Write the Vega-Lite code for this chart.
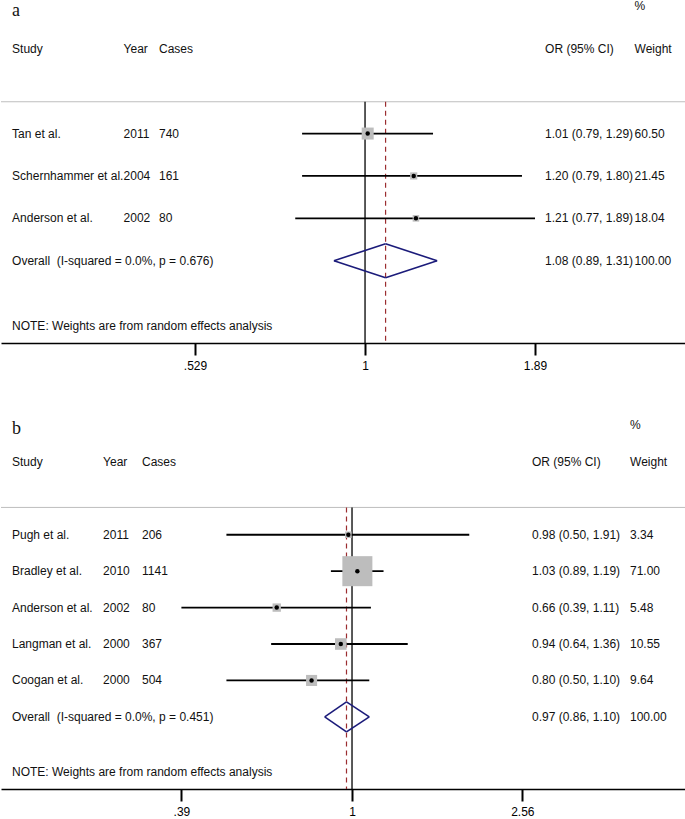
{
  "$schema": "https://vega.github.io/schema/vega-lite/v6.json",
  "padding": 0,
  "spacing": 48,
  "resolve": {"scale": {"size": "independent", "x": "independent", "y": "independent"}},
  "config": {
    "view": {"stroke": null},
    "text": {"font": "Liberation Sans", "fontSize": 12, "fill": "#111111"},
    "axis": {"ticks": true, "tickColor": "#000000", "tickWidth": 2, "tickSize": 12, "tickOpacity": 1},
    "axisX": {"grid": false, "title": null, "ticks": true, "labelExpr": "datum.value < 1 ? replace(format(datum.value, '.3~g'), '0.', '.') : format(datum.value, '.3~g')", "domainColor": "black", "domainWidth": 1.5, "tickColor": "#000000", "tickWidth": 2, "tickSize": 12, "labelFont": "Liberation Sans", "labelFontSize": 12, "labelColor": "black", "labelPadding": 5, "labelFlush": false, "labelOverlap": false}
  },
  "vconcat": [
    {
      "width": 685,
      "height": 343,
      "data": {"values": [
        {"study": "Tan et al.", "year": 2011, "cases": 740, "or": 1.01, "lo": 0.79, "hi": 1.29, "est": "1.01 (0.79, 1.29)", "weight": 60.50, "kind": "study"},
        {"study": "Schernhammer et al.", "year": 2004, "cases": 161, "or": 1.20, "lo": 0.79, "hi": 1.80, "est": "1.20 (0.79, 1.80)", "weight": 21.45, "kind": "study"},
        {"study": "Anderson et al.", "year": 2002, "cases": 80, "or": 1.21, "lo": 0.77, "hi": 1.89, "est": "1.21 (0.77, 1.89)", "weight": 18.04, "kind": "study"},
        {"study": "Overall\u00a0\u00a0(I-squared = 0.0%, p = 0.676)", "or": 1.08, "lo": 0.89, "hi": 1.31, "est": "1.08 (0.89, 1.31)", "weight": 100.00, "kind": "overall"}
      ]},
      "transform": [{"window": [{"op": "row_number", "as": "row"}]}],
      "layer": [
        {"data": {"values": [{}]}, "mark": {"type": "rule", "color": "#BEBEBE", "strokeWidth": 1},
         "encoding": {"y": {"datum": 0.25, "type": "quantitative", "scale": {"domain": [-2.15, 5.94], "reverse": true, "nice": false, "zero": false}, "axis": null}}},
        {"data": {"values": [{}]}, "mark": {"type": "rule", "color": "black", "strokeWidth": 1.3},
         "encoding": {
           "x": {"datum": 1, "type": "quantitative", "scale": {"type": "log", "domain": [0.2558, 3.327], "nice": false}, "axis": {"values": [0.529, 1, 1.89], "title": null, "ticks": true, "tickSize": 12}},
           "y": {"datum": 0.25, "type": "quantitative", "scale": {"domain": [-2.15, 5.94], "reverse": true, "nice": false, "zero": false}, "axis": null},
           "y2": {"datum": 5.94}}},
        {"transform": [{"filter": "datum.kind == 'overall'"}], "mark": {"type": "rule", "color": "#9B2D30", "strokeWidth": 1.2, "strokeDash": [5, 4]},
         "encoding": {
           "x": {"field": "or", "type": "quantitative", "scale": {"type": "log", "domain": [0.2558, 3.327], "nice": false}, "axis": {"values": [0.529, 1, 1.89], "title": null, "ticks": true, "tickSize": 12}},
           "y": {"datum": 0.25, "type": "quantitative", "scale": {"domain": [-2.15, 5.94], "reverse": true, "nice": false, "zero": false}, "axis": null},
           "y2": {"datum": 5.94}}},
        {"transform": [{"filter": "datum.kind == 'study'"}], "mark": {"type": "rule", "color": "black", "strokeWidth": 1.8},
         "encoding": {
           "x": {"field": "lo", "type": "quantitative", "scale": {"type": "log", "domain": [0.2558, 3.327], "nice": false}, "axis": {"values": [0.529, 1, 1.89], "title": null, "ticks": true, "tickSize": 12}},
           "x2": {"field": "hi"},
           "y": {"field": "row", "type": "quantitative", "scale": {"domain": [-2.15, 5.94], "reverse": true, "nice": false, "zero": false}, "axis": null}}},
        {"transform": [{"filter": "datum.kind == 'study'"}], "mark": {"type": "point", "shape": "square", "filled": true, "color": "#BDBDBD", "opacity": 1},
         "encoding": {
           "x": {"field": "or", "type": "quantitative", "scale": {"type": "log", "domain": [0.2558, 3.327], "nice": false}, "axis": {"values": [0.529, 1, 1.89], "title": null, "ticks": true, "tickSize": 12}},
           "y": {"field": "row", "type": "quantitative", "scale": {"domain": [-2.15, 5.94], "reverse": true, "nice": false, "zero": false}, "axis": null},
           "size": {"field": "weight", "type": "quantitative", "scale": {"type": "linear", "domain": [0, 100], "range": [0, 238], "zero": true}, "legend": null}}},
        {"transform": [{"filter": "datum.kind == 'study'"}], "mark": {"type": "point", "shape": "circle", "filled": true, "color": "black", "size": 20, "opacity": 1},
         "encoding": {
           "x": {"field": "or", "type": "quantitative", "scale": {"type": "log", "domain": [0.2558, 3.327], "nice": false}, "axis": {"values": [0.529, 1, 1.89], "title": null, "ticks": true, "tickSize": 12}},
           "y": {"field": "row", "type": "quantitative", "scale": {"domain": [-2.15, 5.94], "reverse": true, "nice": false, "zero": false}, "axis": null}}},
        {"transform": [{"filter": "datum.kind == 'overall'"}], "mark": {"type": "rule", "color": "#1B1B7A", "strokeWidth": 1.6, "y2Offset": -17},
         "encoding": {
           "x": {"field": "lo", "type": "quantitative", "scale": {"type": "log", "domain": [0.2558, 3.327], "nice": false}, "axis": {"values": [0.529, 1, 1.89], "title": null, "ticks": true, "tickSize": 12}},
           "x2": {"field": "or"},
           "y": {"field": "row", "type": "quantitative", "scale": {"domain": [-2.15, 5.94], "reverse": true, "nice": false, "zero": false}, "axis": null},
           "y2": {"field": "row"}}},
        {"transform": [{"filter": "datum.kind == 'overall'"}], "mark": {"type": "rule", "color": "#1B1B7A", "strokeWidth": 1.6, "y2Offset": 17},
         "encoding": {
           "x": {"field": "lo", "type": "quantitative", "scale": {"type": "log", "domain": [0.2558, 3.327], "nice": false}, "axis": {"values": [0.529, 1, 1.89], "title": null, "ticks": true, "tickSize": 12}},
           "x2": {"field": "or"},
           "y": {"field": "row", "type": "quantitative", "scale": {"domain": [-2.15, 5.94], "reverse": true, "nice": false, "zero": false}, "axis": null},
           "y2": {"field": "row"}}},
        {"transform": [{"filter": "datum.kind == 'overall'"}], "mark": {"type": "rule", "color": "#1B1B7A", "strokeWidth": 1.6, "yOffset": -17},
         "encoding": {
           "x": {"field": "or", "type": "quantitative", "scale": {"type": "log", "domain": [0.2558, 3.327], "nice": false}, "axis": {"values": [0.529, 1, 1.89], "title": null, "ticks": true, "tickSize": 12}},
           "x2": {"field": "hi"},
           "y": {"field": "row", "type": "quantitative", "scale": {"domain": [-2.15, 5.94], "reverse": true, "nice": false, "zero": false}, "axis": null},
           "y2": {"field": "row"}}},
        {"transform": [{"filter": "datum.kind == 'overall'"}], "mark": {"type": "rule", "color": "#1B1B7A", "strokeWidth": 1.6, "yOffset": 17},
         "encoding": {
           "x": {"field": "or", "type": "quantitative", "scale": {"type": "log", "domain": [0.2558, 3.327], "nice": false}, "axis": {"values": [0.529, 1, 1.89], "title": null, "ticks": true, "tickSize": 12}},
           "x2": {"field": "hi"},
           "y": {"field": "row", "type": "quantitative", "scale": {"domain": [-2.15, 5.94], "reverse": true, "nice": false, "zero": false}, "axis": null},
           "y2": {"field": "row"}}},
        {"mark": {"type": "text", "align": "left", "baseline": "middle"},
         "encoding": {
           "x": {"datum": 0.2666, "type": "quantitative", "scale": {"type": "log", "domain": [0.2558, 3.327], "nice": false}, "axis": {"values": [0.529, 1, 1.89], "title": null, "ticks": true, "tickSize": 12}},
           "y": {"field": "row", "type": "quantitative", "scale": {"domain": [-2.15, 5.94], "reverse": true, "nice": false, "zero": false}, "axis": null},
           "text": {"field": "study", "type": "nominal"}}},
        {"transform": [{"filter": "datum.kind == 'study'"}], "mark": {"type": "text", "align": "left", "baseline": "middle"},
         "encoding": {
           "x": {"datum": 0.4048, "type": "quantitative", "scale": {"type": "log", "domain": [0.2558, 3.327], "nice": false}, "axis": {"values": [0.529, 1, 1.89], "title": null, "ticks": true, "tickSize": 12}},
           "y": {"field": "row", "type": "quantitative", "scale": {"domain": [-2.15, 5.94], "reverse": true, "nice": false, "zero": false}, "axis": null},
           "text": {"field": "year", "type": "nominal"}}},
        {"transform": [{"filter": "datum.kind == 'study'"}], "mark": {"type": "text", "align": "left", "baseline": "middle"},
         "encoding": {
           "x": {"datum": 0.4623, "type": "quantitative", "scale": {"type": "log", "domain": [0.2558, 3.327], "nice": false}, "axis": {"values": [0.529, 1, 1.89], "title": null, "ticks": true, "tickSize": 12}},
           "y": {"field": "row", "type": "quantitative", "scale": {"domain": [-2.15, 5.94], "reverse": true, "nice": false, "zero": false}, "axis": null},
           "text": {"field": "cases", "type": "nominal"}}},
        {"mark": {"type": "text", "align": "left", "baseline": "middle"},
         "encoding": {
           "x": {"datum": 1.9625, "type": "quantitative", "scale": {"type": "log", "domain": [0.2558, 3.327], "nice": false}, "axis": {"values": [0.529, 1, 1.89], "title": null, "ticks": true, "tickSize": 12}},
           "y": {"field": "row", "type": "quantitative", "scale": {"domain": [-2.15, 5.94], "reverse": true, "nice": false, "zero": false}, "axis": null},
           "text": {"field": "est", "type": "nominal"}}},
        {"mark": {"type": "text", "align": "left", "baseline": "middle"},
         "encoding": {
           "x": {"datum": 2.744, "type": "quantitative", "scale": {"type": "log", "domain": [0.2558, 3.327], "nice": false}, "axis": {"values": [0.529, 1, 1.89], "title": null, "ticks": true, "tickSize": 12}},
           "y": {"field": "row", "type": "quantitative", "scale": {"domain": [-2.15, 5.94], "reverse": true, "nice": false, "zero": false}, "axis": null},
           "text": {"field": "weight", "type": "quantitative", "format": ".2f"}}},
        {"data": {"values": [{}]}, "mark": {"type": "text", "align": "left", "baseline": "alphabetic", "text": "a", "font": "Liberation Serif", "fontSize": 18, "dy": 10},
         "encoding": {
           "x": {"datum": 0.2666, "type": "quantitative", "scale": {"type": "log", "domain": [0.2558, 3.327], "nice": false}, "axis": {"values": [0.529, 1, 1.89], "title": null, "ticks": true, "tickSize": 12}},
           "y": {"datum": -2, "type": "quantitative", "scale": {"domain": [-2.15, 5.94], "reverse": true, "nice": false, "zero": false}, "axis": null}}},
        {"data": {"values": [{}]}, "mark": {"type": "text", "align": "left", "baseline": "middle", "text": "Study"},
         "encoding": {
           "x": {"datum": 0.2666, "type": "quantitative", "scale": {"type": "log", "domain": [0.2558, 3.327], "nice": false}, "axis": {"values": [0.529, 1, 1.89], "title": null, "ticks": true, "tickSize": 12}},
           "y": {"datum": -1, "type": "quantitative", "scale": {"domain": [-2.15, 5.94], "reverse": true, "nice": false, "zero": false}, "axis": null}}},
        {"data": {"values": [{}]}, "mark": {"type": "text", "align": "left", "baseline": "middle", "text": "Year"},
         "encoding": {
           "x": {"datum": 0.4048, "type": "quantitative", "scale": {"type": "log", "domain": [0.2558, 3.327], "nice": false}, "axis": {"values": [0.529, 1, 1.89], "title": null, "ticks": true, "tickSize": 12}},
           "y": {"datum": -1, "type": "quantitative", "scale": {"domain": [-2.15, 5.94], "reverse": true, "nice": false, "zero": false}, "axis": null}}},
        {"data": {"values": [{}]}, "mark": {"type": "text", "align": "left", "baseline": "middle", "text": "Cases"},
         "encoding": {
           "x": {"datum": 0.4623, "type": "quantitative", "scale": {"type": "log", "domain": [0.2558, 3.327], "nice": false}, "axis": {"values": [0.529, 1, 1.89], "title": null, "ticks": true, "tickSize": 12}},
           "y": {"datum": -1, "type": "quantitative", "scale": {"domain": [-2.15, 5.94], "reverse": true, "nice": false, "zero": false}, "axis": null}}},
        {"data": {"values": [{}]}, "mark": {"type": "text", "align": "left", "baseline": "middle", "text": "OR (95% CI)"},
         "encoding": {
           "x": {"datum": 1.9625, "type": "quantitative", "scale": {"type": "log", "domain": [0.2558, 3.327], "nice": false}, "axis": {"values": [0.529, 1, 1.89], "title": null, "ticks": true, "tickSize": 12}},
           "y": {"datum": -1, "type": "quantitative", "scale": {"domain": [-2.15, 5.94], "reverse": true, "nice": false, "zero": false}, "axis": null}}},
        {"data": {"values": [{}]}, "mark": {"type": "text", "align": "left", "baseline": "middle", "text": "Weight"},
         "encoding": {
           "x": {"datum": 2.744, "type": "quantitative", "scale": {"type": "log", "domain": [0.2558, 3.327], "nice": false}, "axis": {"values": [0.529, 1, 1.89], "title": null, "ticks": true, "tickSize": 12}},
           "y": {"datum": -1, "type": "quantitative", "scale": {"domain": [-2.15, 5.94], "reverse": true, "nice": false, "zero": false}, "axis": null}}},
        {"data": {"values": [{}]}, "mark": {"type": "text", "align": "left", "baseline": "middle", "text": "%"},
         "encoding": {
           "x": {"datum": 2.744, "type": "quantitative", "scale": {"type": "log", "domain": [0.2558, 3.327], "nice": false}, "axis": {"values": [0.529, 1, 1.89], "title": null, "ticks": true, "tickSize": 12}},
           "y": {"datum": -2, "type": "quantitative", "scale": {"domain": [-2.15, 5.94], "reverse": true, "nice": false, "zero": false}, "axis": null}}},
        {"data": {"values": [{}]}, "mark": {"type": "text", "align": "left", "baseline": "middle", "text": "NOTE: Weights are from random effects analysis"},
         "encoding": {
           "x": {"datum": 0.2666, "type": "quantitative", "scale": {"type": "log", "domain": [0.2558, 3.327], "nice": false}, "axis": {"values": [0.529, 1, 1.89], "title": null, "ticks": true, "tickSize": 12}},
           "y": {"datum": 5.55, "type": "quantitative", "scale": {"domain": [-2.15, 5.94], "reverse": true, "nice": false, "zero": false}, "axis": null}}}
      ]
    },
    {
      "width": 685,
      "height": 369,
      "data": {"values": [
        {"study": "Pugh et al.", "year": 2011, "cases": 206, "or": 0.98, "lo": 0.50, "hi": 1.91, "est": "0.98 (0.50, 1.91)", "weight": 3.34, "kind": "study"},
        {"study": "Bradley et al.", "year": 2010, "cases": 1141, "or": 1.03, "lo": 0.89, "hi": 1.19, "est": "1.03 (0.89, 1.19)", "weight": 71.00, "kind": "study"},
        {"study": "Anderson et al.", "year": 2002, "cases": 80, "or": 0.66, "lo": 0.39, "hi": 1.11, "est": "0.66 (0.39, 1.11)", "weight": 5.48, "kind": "study"},
        {"study": "Langman et al.", "year": 2000, "cases": 367, "or": 0.94, "lo": 0.64, "hi": 1.36, "est": "0.94 (0.64, 1.36)", "weight": 10.55, "kind": "study"},
        {"study": "Coogan et al.", "year": 2000, "cases": 504, "or": 0.80, "lo": 0.50, "hi": 1.10, "est": "0.80 (0.50, 1.10)", "weight": 9.64, "kind": "study"},
        {"study": "Overall\u00a0\u00a0(I-squared = 0.0%, p = 0.451)", "or": 0.97, "lo": 0.86, "hi": 1.10, "est": "0.97 (0.86, 1.10)", "weight": 100.00, "kind": "overall"}
      ]},
      "transform": [{"window": [{"op": "row_number", "as": "row"}]}],
      "layer": [
        {"data": {"values": [{}]}, "mark": {"type": "rule", "color": "#BEBEBE", "strokeWidth": 1},
         "encoding": {"y": {"datum": 0.25, "type": "quantitative", "scale": {"domain": [-2.15, 7.98], "reverse": true, "nice": false, "zero": false}, "axis": null}}},
        {"data": {"values": [{}]}, "mark": {"type": "rule", "color": "black", "strokeWidth": 1.3},
         "encoding": {
           "x": {"datum": 1, "type": "quantitative", "scale": {"type": "log", "domain": [0.1441, 6.317], "nice": false}, "axis": {"values": [0.39, 1, 2.56], "title": null, "ticks": true, "tickSize": 12}},
           "y": {"datum": 0.25, "type": "quantitative", "scale": {"domain": [-2.15, 7.98], "reverse": true, "nice": false, "zero": false}, "axis": null},
           "y2": {"datum": 7.98}}},
        {"transform": [{"filter": "datum.kind == 'overall'"}], "mark": {"type": "rule", "color": "#9B2D30", "strokeWidth": 1.2, "strokeDash": [5, 4]},
         "encoding": {
           "x": {"field": "or", "type": "quantitative", "scale": {"type": "log", "domain": [0.1441, 6.317], "nice": false}, "axis": {"values": [0.39, 1, 2.56], "title": null, "ticks": true, "tickSize": 12}},
           "y": {"datum": 0.25, "type": "quantitative", "scale": {"domain": [-2.15, 7.98], "reverse": true, "nice": false, "zero": false}, "axis": null},
           "y2": {"datum": 7.98}}},
        {"transform": [{"filter": "datum.kind == 'study'"}], "mark": {"type": "rule", "color": "black", "strokeWidth": 1.8},
         "encoding": {
           "x": {"field": "lo", "type": "quantitative", "scale": {"type": "log", "domain": [0.1441, 6.317], "nice": false}, "axis": {"values": [0.39, 1, 2.56], "title": null, "ticks": true, "tickSize": 12}},
           "x2": {"field": "hi"},
           "y": {"field": "row", "type": "quantitative", "scale": {"domain": [-2.15, 7.98], "reverse": true, "nice": false, "zero": false}, "axis": null}}},
        {"transform": [{"filter": "datum.kind == 'study'"}], "mark": {"type": "point", "shape": "square", "filled": true, "color": "#BDBDBD", "opacity": 1},
         "encoding": {
           "x": {"field": "or", "type": "quantitative", "scale": {"type": "log", "domain": [0.1441, 6.317], "nice": false}, "axis": {"values": [0.39, 1, 2.56], "title": null, "ticks": true, "tickSize": 12}},
           "y": {"field": "row", "type": "quantitative", "scale": {"domain": [-2.15, 7.98], "reverse": true, "nice": false, "zero": false}, "axis": null},
           "size": {"field": "weight", "type": "quantitative", "scale": {"type": "linear", "domain": [0, 100], "range": [0, 1270], "zero": true}, "legend": null}}},
        {"transform": [{"filter": "datum.kind == 'study'"}], "mark": {"type": "point", "shape": "circle", "filled": true, "color": "black", "size": 20, "opacity": 1},
         "encoding": {
           "x": {"field": "or", "type": "quantitative", "scale": {"type": "log", "domain": [0.1441, 6.317], "nice": false}, "axis": {"values": [0.39, 1, 2.56], "title": null, "ticks": true, "tickSize": 12}},
           "y": {"field": "row", "type": "quantitative", "scale": {"domain": [-2.15, 7.98], "reverse": true, "nice": false, "zero": false}, "axis": null}}},
        {"transform": [{"filter": "datum.kind == 'overall'"}], "mark": {"type": "rule", "color": "#1B1B7A", "strokeWidth": 1.6, "y2Offset": -15},
         "encoding": {
           "x": {"field": "lo", "type": "quantitative", "scale": {"type": "log", "domain": [0.1441, 6.317], "nice": false}, "axis": {"values": [0.39, 1, 2.56], "title": null, "ticks": true, "tickSize": 12}},
           "x2": {"field": "or"},
           "y": {"field": "row", "type": "quantitative", "scale": {"domain": [-2.15, 7.98], "reverse": true, "nice": false, "zero": false}, "axis": null},
           "y2": {"field": "row"}}},
        {"transform": [{"filter": "datum.kind == 'overall'"}], "mark": {"type": "rule", "color": "#1B1B7A", "strokeWidth": 1.6, "y2Offset": 15},
         "encoding": {
           "x": {"field": "lo", "type": "quantitative", "scale": {"type": "log", "domain": [0.1441, 6.317], "nice": false}, "axis": {"values": [0.39, 1, 2.56], "title": null, "ticks": true, "tickSize": 12}},
           "x2": {"field": "or"},
           "y": {"field": "row", "type": "quantitative", "scale": {"domain": [-2.15, 7.98], "reverse": true, "nice": false, "zero": false}, "axis": null},
           "y2": {"field": "row"}}},
        {"transform": [{"filter": "datum.kind == 'overall'"}], "mark": {"type": "rule", "color": "#1B1B7A", "strokeWidth": 1.6, "yOffset": -15},
         "encoding": {
           "x": {"field": "or", "type": "quantitative", "scale": {"type": "log", "domain": [0.1441, 6.317], "nice": false}, "axis": {"values": [0.39, 1, 2.56], "title": null, "ticks": true, "tickSize": 12}},
           "x2": {"field": "hi"},
           "y": {"field": "row", "type": "quantitative", "scale": {"domain": [-2.15, 7.98], "reverse": true, "nice": false, "zero": false}, "axis": null},
           "y2": {"field": "row"}}},
        {"transform": [{"filter": "datum.kind == 'overall'"}], "mark": {"type": "rule", "color": "#1B1B7A", "strokeWidth": 1.6, "yOffset": 15},
         "encoding": {
           "x": {"field": "or", "type": "quantitative", "scale": {"type": "log", "domain": [0.1441, 6.317], "nice": false}, "axis": {"values": [0.39, 1, 2.56], "title": null, "ticks": true, "tickSize": 12}},
           "x2": {"field": "hi"},
           "y": {"field": "row", "type": "quantitative", "scale": {"domain": [-2.15, 7.98], "reverse": true, "nice": false, "zero": false}, "axis": null},
           "y2": {"field": "row"}}},
        {"mark": {"type": "text", "align": "left", "baseline": "middle"},
         "encoding": {
           "x": {"datum": 0.1531, "type": "quantitative", "scale": {"type": "log", "domain": [0.1441, 6.317], "nice": false}, "axis": {"values": [0.39, 1, 2.56], "title": null, "ticks": true, "tickSize": 12}},
           "y": {"field": "row", "type": "quantitative", "scale": {"domain": [-2.15, 7.98], "reverse": true, "nice": false, "zero": false}, "axis": null},
           "text": {"field": "study", "type": "nominal"}}},
        {"transform": [{"filter": "datum.kind == 'study'"}], "mark": {"type": "text", "align": "left", "baseline": "middle"},
         "encoding": {
           "x": {"datum": 0.2531, "type": "quantitative", "scale": {"type": "log", "domain": [0.1441, 6.317], "nice": false}, "axis": {"values": [0.39, 1, 2.56], "title": null, "ticks": true, "tickSize": 12}},
           "y": {"field": "row", "type": "quantitative", "scale": {"domain": [-2.15, 7.98], "reverse": true, "nice": false, "zero": false}, "axis": null},
           "text": {"field": "year", "type": "nominal"}}},
        {"transform": [{"filter": "datum.kind == 'study'"}], "mark": {"type": "text", "align": "left", "baseline": "middle"},
         "encoding": {
           "x": {"datum": 0.3138, "type": "quantitative", "scale": {"type": "log", "domain": [0.1441, 6.317], "nice": false}, "axis": {"values": [0.39, 1, 2.56], "title": null, "ticks": true, "tickSize": 12}},
           "y": {"field": "row", "type": "quantitative", "scale": {"domain": [-2.15, 7.98], "reverse": true, "nice": false, "zero": false}, "axis": null},
           "text": {"field": "cases", "type": "nominal"}}},
        {"mark": {"type": "text", "align": "left", "baseline": "middle"},
         "encoding": {
           "x": {"datum": 2.7004, "type": "quantitative", "scale": {"type": "log", "domain": [0.1441, 6.317], "nice": false}, "axis": {"values": [0.39, 1, 2.56], "title": null, "ticks": true, "tickSize": 12}},
           "y": {"field": "row", "type": "quantitative", "scale": {"domain": [-2.15, 7.98], "reverse": true, "nice": false, "zero": false}, "axis": null},
           "text": {"field": "est", "type": "nominal"}}},
        {"mark": {"type": "text", "align": "left", "baseline": "middle"},
         "encoding": {
           "x": {"datum": 4.638, "type": "quantitative", "scale": {"type": "log", "domain": [0.1441, 6.317], "nice": false}, "axis": {"values": [0.39, 1, 2.56], "title": null, "ticks": true, "tickSize": 12}},
           "y": {"field": "row", "type": "quantitative", "scale": {"domain": [-2.15, 7.98], "reverse": true, "nice": false, "zero": false}, "axis": null},
           "text": {"field": "weight", "type": "quantitative", "format": ".2f"}}},
        {"data": {"values": [{}]}, "mark": {"type": "text", "align": "left", "baseline": "alphabetic", "text": "b", "font": "Liberation Serif", "fontSize": 18, "dy": 9},
         "encoding": {
           "x": {"datum": 0.1531, "type": "quantitative", "scale": {"type": "log", "domain": [0.1441, 6.317], "nice": false}, "axis": {"values": [0.39, 1, 2.56], "title": null, "ticks": true, "tickSize": 12}},
           "y": {"datum": -2, "type": "quantitative", "scale": {"domain": [-2.15, 7.98], "reverse": true, "nice": false, "zero": false}, "axis": null}}},
        {"data": {"values": [{}]}, "mark": {"type": "text", "align": "left", "baseline": "middle", "text": "Study"},
         "encoding": {
           "x": {"datum": 0.1531, "type": "quantitative", "scale": {"type": "log", "domain": [0.1441, 6.317], "nice": false}, "axis": {"values": [0.39, 1, 2.56], "title": null, "ticks": true, "tickSize": 12}},
           "y": {"datum": -1, "type": "quantitative", "scale": {"domain": [-2.15, 7.98], "reverse": true, "nice": false, "zero": false}, "axis": null}}},
        {"data": {"values": [{}]}, "mark": {"type": "text", "align": "left", "baseline": "middle", "text": "Year"},
         "encoding": {
           "x": {"datum": 0.2531, "type": "quantitative", "scale": {"type": "log", "domain": [0.1441, 6.317], "nice": false}, "axis": {"values": [0.39, 1, 2.56], "title": null, "ticks": true, "tickSize": 12}},
           "y": {"datum": -1, "type": "quantitative", "scale": {"domain": [-2.15, 7.98], "reverse": true, "nice": false, "zero": false}, "axis": null}}},
        {"data": {"values": [{}]}, "mark": {"type": "text", "align": "left", "baseline": "middle", "text": "Cases"},
         "encoding": {
           "x": {"datum": 0.3138, "type": "quantitative", "scale": {"type": "log", "domain": [0.1441, 6.317], "nice": false}, "axis": {"values": [0.39, 1, 2.56], "title": null, "ticks": true, "tickSize": 12}},
           "y": {"datum": -1, "type": "quantitative", "scale": {"domain": [-2.15, 7.98], "reverse": true, "nice": false, "zero": false}, "axis": null}}},
        {"data": {"values": [{}]}, "mark": {"type": "text", "align": "left", "baseline": "middle", "text": "OR (95% CI)"},
         "encoding": {
           "x": {"datum": 2.7004, "type": "quantitative", "scale": {"type": "log", "domain": [0.1441, 6.317], "nice": false}, "axis": {"values": [0.39, 1, 2.56], "title": null, "ticks": true, "tickSize": 12}},
           "y": {"datum": -1, "type": "quantitative", "scale": {"domain": [-2.15, 7.98], "reverse": true, "nice": false, "zero": false}, "axis": null}}},
        {"data": {"values": [{}]}, "mark": {"type": "text", "align": "left", "baseline": "middle", "text": "Weight"},
         "encoding": {
           "x": {"datum": 4.638, "type": "quantitative", "scale": {"type": "log", "domain": [0.1441, 6.317], "nice": false}, "axis": {"values": [0.39, 1, 2.56], "title": null, "ticks": true, "tickSize": 12}},
           "y": {"datum": -1, "type": "quantitative", "scale": {"domain": [-2.15, 7.98], "reverse": true, "nice": false, "zero": false}, "axis": null}}},
        {"data": {"values": [{}]}, "mark": {"type": "text", "align": "left", "baseline": "middle", "text": "%"},
         "encoding": {
           "x": {"datum": 4.638, "type": "quantitative", "scale": {"type": "log", "domain": [0.1441, 6.317], "nice": false}, "axis": {"values": [0.39, 1, 2.56], "title": null, "ticks": true, "tickSize": 12}},
           "y": {"datum": -2, "type": "quantitative", "scale": {"domain": [-2.15, 7.98], "reverse": true, "nice": false, "zero": false}, "axis": null}}},
        {"data": {"values": [{}]}, "mark": {"type": "text", "align": "left", "baseline": "middle", "text": "NOTE: Weights are from random effects analysis"},
         "encoding": {
           "x": {"datum": 0.1531, "type": "quantitative", "scale": {"type": "log", "domain": [0.1441, 6.317], "nice": false}, "axis": {"values": [0.39, 1, 2.56], "title": null, "ticks": true, "tickSize": 12}},
           "y": {"datum": 7.5, "type": "quantitative", "scale": {"domain": [-2.15, 7.98], "reverse": true, "nice": false, "zero": false}, "axis": null}}}
      ]
    }
  ]
}
